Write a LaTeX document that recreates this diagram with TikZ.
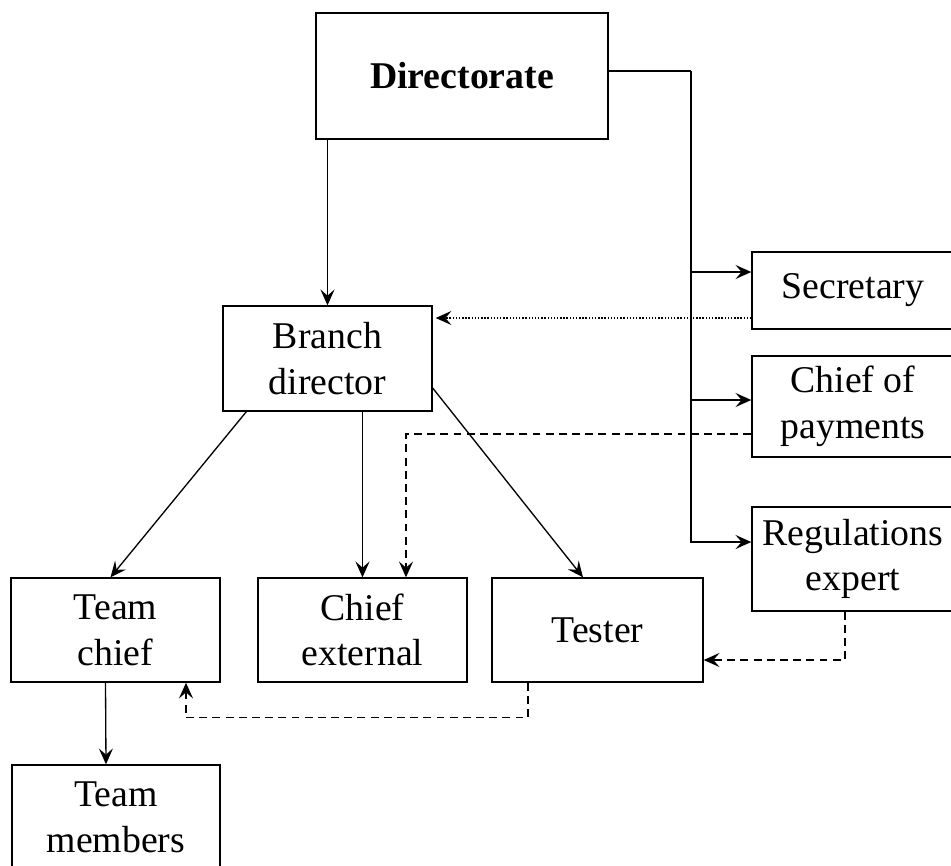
\documentclass[tikz,border=0pt]{standalone}
\usepackage{fontspec}
\setmainfont{Liberation Serif}
\usepackage{tikz}
\usetikzlibrary{arrows.meta,calc}

\begin{document}
\begin{tikzpicture}[x=0.02cm,y=-0.02cm,
  box/.style={rectangle,draw,line width=0.8pt,align=center,inner sep=0pt,font=\fontsize{21.5}{26}\selectfont},
  rbox/.style={box,minimum width=4.04cm},
  link/.style={line width=0.75pt,-{Stealth[length=9pt,width=8pt,inset=3.5pt]}},
  dashlink/.style={link,dash pattern=on 4.5pt off 3pt},
  dotlink/.style={link,line width=0.6pt,dash pattern=on 0.8pt off 1pt}
]
\useasboundingbox[fill=white] (0,0) rectangle (951,866);

\node[box,minimum width=5.84cm,minimum height=2.52cm] (dir) at (462,76) {\bfseries Directorate};
\node[rbox,minimum height=1.54cm] (sec) at (853,290.5) {Secretary};
\node[rbox,minimum height=2.02cm] (pay) at (853,406.5) {Chief of\\payments};
\node[rbox,minimum height=2.08cm] (reg) at (853,559) {Regulations\\expert};
\node[box,minimum width=4.18cm,minimum height=2.1cm] (branch) at (327.5,358.5) {Branch\\director};
\node[box,minimum width=4.18cm,minimum height=2.08cm] (tchief) at (115.5,630) {Team\\chief};
\node[box,minimum width=4.18cm,minimum height=2.08cm] (ext) at (362.5,630) {Chief\\external};
\node[box,minimum width=4.22cm,minimum height=2.08cm] (tester) at (597.5,630) {Tester};
\node[box,minimum width=4.16cm,minimum height=2.1cm] (tmem) at (116,817.5) {Team\\members};

\coordinate (bus) at (691,71);
\draw[line width=0.75pt] ($(dir.east)+(0,-5)$) -- (bus);
\draw[link] (bus) |- ($(sec.west)+(0,-18.5)$);
\draw[link] (bus) |- ($(pay.west)+(0,-6.5)$);
\draw[link] (bus) |- ($(reg.west)+(0,-17)$);

\draw[link] (branch.north |- dir.south) -- (branch.north);
\draw[dotlink] ($(sec.west)+(0,27.5)$) coordinate (s1) -- ($(s1 -| branch.east)+(3,0)$);
\draw[link] ($(branch.south west)+(24,0)$) -- ($(tchief.north)+(-5,0)$);
\draw[link] (ext.north |- branch.south) -- (ext.north);
\draw[link] ($(branch.east)+(0,29.5)$) -- ($(tester.north)+(-14.5,0)$);
\draw[dashlink] ($(pay.west)+(0,27.5)$) -| ($(ext.north)+(43.5,0)$);
\draw[dashlink] ($(reg.south)+(-8,0)$) |- ($(tester.east)+(0,30)$);
\draw[dashlink] ($(tester.south)+(-69.5,0)$) -- ++(0,35) -| ($(tchief.south)+(70.5,0)$);
\draw[link] ($(tchief.south)+(-10,0)$) -- ($(tmem.north)+(-10,0)$);

\end{tikzpicture}
\end{document}
